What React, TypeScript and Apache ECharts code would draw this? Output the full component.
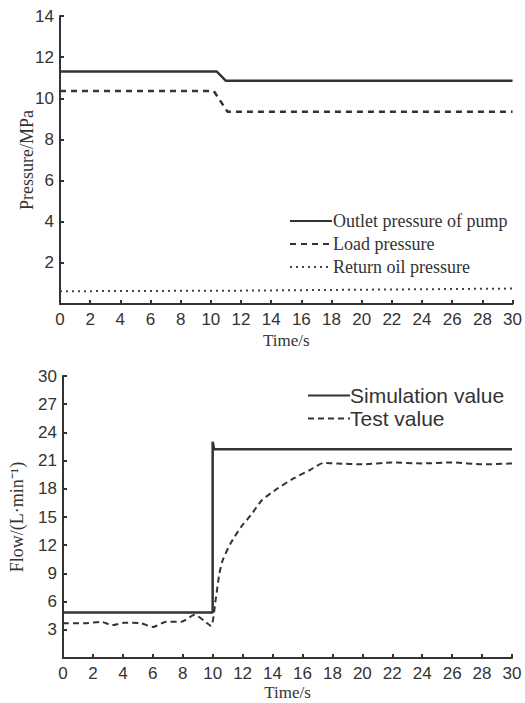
import React, { useEffect, useRef } from "react";
import * as echarts from "echarts";

const xTicks = [0, 2, 4, 6, 8, 10, 12, 14, 16, 18, 20, 22, 24, 26, 28, 30];

// Top chart: pressure (MPa) vs time (s)
const outletPressure: [number, number][] = [
  [0, 11.3], [10.4, 11.3], [11.0, 10.85], [30, 10.85],
];
const loadPressure: [number, number][] = [
  [0, 10.35], [10.2, 10.35], [10.6, 9.9], [11.1, 9.35], [30, 9.35],
];
const returnOilPressure: [number, number][] = [
  [0, 0.62], [12, 0.65], [30, 0.75],
];

// Bottom chart: flow (L/min) vs time (s)
const simulationValue: [number, number][] = [
  [0, 4.85], [10, 4.85], [10, 23.0], [10.1, 22.2], [30, 22.2],
];
const testValue: [number, number][] = [
  [0, 3.7], [1.4, 3.7], [2.55, 3.85], [3.3, 3.5], [4.1, 3.75], [5.2, 3.7],
  [6.0, 3.3], [6.9, 3.85], [7.9, 3.85], [8.8, 4.6], [9.4, 4.0], [9.9, 3.4],
  [10.2, 6.2], [10.45, 9.0], [10.67, 10.4], [11.2, 12.2], [11.9, 13.95],
  [12.55, 15.2], [13.3, 16.8], [14.3, 18.0], [15.4, 19.1], [16.5, 20.0],
  [17.4, 20.75], [18.3, 20.7], [20, 20.6], [22, 20.8], [24, 20.7],
  [26, 20.8], [28, 20.6], [30, 20.7],
];

const axisColor = "#333";
const tickFont = { fontFamily: "Liberation Sans", fontSize: 17, color: "#333" };
const serifFont = { fontFamily: "Liberation Serif", fontSize: 17, color: "#333" };

export default function App() {
  const ref = useRef<HTMLDivElement>(null);
  useEffect(() => {
    document.body.style.margin = "0";
    const chart = echarts.init(ref.current!, undefined, { renderer: "svg" });
    const xAxisBase = (gridIndex: number, gap: number) => ({
      type: "value",
      gridIndex,
      min: 0,
      max: 30,
      interval: 2,
      name: "Time/s",
      nameLocation: "middle",
      nameGap: gap,
      nameMoveOverlap: false,
      nameTextStyle: serifFont,
      axisLine: { show: true, lineStyle: { color: axisColor, width: 2 } },
      axisTick: { show: true, inside: true, length: 4, lineStyle: { color: axisColor, width: 2 } },
      axisLabel: { ...tickFont, margin: 7 },
      splitLine: { show: false },
    });
    const yAxisBase = (gridIndex: number, max: number, interval: number, name: string, gap: number) => ({
      type: "value",
      gridIndex,
      min: 0,
      max,
      interval,
      name,
      nameLocation: "middle",
      nameGap: gap,
      nameMoveOverlap: false,
      nameTextStyle: { ...serifFont, fontSize: 18 },
      axisLine: { show: true, lineStyle: { color: axisColor, width: 2 } },
      axisTick: { show: true, inside: true, length: 4, lineStyle: { color: axisColor, width: 2 } },
      axisLabel: { ...tickFont, margin: 6, showMinLabel: false },
      splitLine: { show: false },
    });
    chart.setOption({
      animation: false,
      backgroundColor: "#fff",
      grid: [
        { left: 60, top: 16, width: 455, height: 288 },
        { left: 61, top: 376, width: 451, height: 282 },
      ],
      xAxis: [xAxisBase(0, 28), xAxisBase(1, 26)],
      yAxis: [
        yAxisBase(0, 14, 2, "Pressure/MPa", 24),
        yAxisBase(1, 30, 3, "Flow/(L·min⁻¹)", 37),
      ],
      legend: [
        {
          orient: "vertical",
          left: 284,
          top: 207,
          itemWidth: 42,
          itemHeight: 12,
          itemGap: 5,
          itemStyle: { opacity: 0 },
          textStyle: { fontFamily: "Liberation Serif", fontSize: 18, color: "#333", padding: [0, 0, 0, -4] },
          data: ["Outlet pressure of pump", "Load pressure", "Return oil pressure"],
        },
        {
          orient: "vertical",
          left: 302,
          top: 380,
          itemWidth: 42,
          itemHeight: 14,
          itemGap: 2,
          itemStyle: { opacity: 0 },
          textStyle: { fontFamily: "Liberation Sans", fontSize: 21, color: "#333", padding: [0, 0, 0, -5] },
          data: ["Simulation value", "Test value"],
        },
      ],
      series: [
        {
          name: "Outlet pressure of pump",
          type: "line",
          xAxisIndex: 0,
          yAxisIndex: 0,
          data: outletPressure,
          symbol: "none",
          lineStyle: { color: "#333", width: 2.5, type: "solid" },
          itemStyle: { color: "#333" },
        },
        {
          name: "Load pressure",
          type: "line",
          xAxisIndex: 0,
          yAxisIndex: 0,
          data: loadPressure,
          symbol: "none",
          lineStyle: { color: "#333", width: 2.5, type: [6, 5] },
          itemStyle: { color: "#333" },
        },
        {
          name: "Return oil pressure",
          type: "line",
          xAxisIndex: 0,
          yAxisIndex: 0,
          data: returnOilPressure,
          symbol: "none",
          lineStyle: { color: "#444", width: 2, type: [2, 4] },
          itemStyle: { color: "#444" },
        },
        {
          name: "Simulation value",
          type: "line",
          xAxisIndex: 1,
          yAxisIndex: 1,
          data: simulationValue,
          symbol: "none",
          lineStyle: { color: "#333", width: 2.5, type: "solid" },
          itemStyle: { color: "#333" },
        },
        {
          name: "Test value",
          type: "line",
          xAxisIndex: 1,
          yAxisIndex: 1,
          data: testValue,
          symbol: "none",
          smooth: 0.2,
          lineStyle: { color: "#333", width: 2, type: [6, 4] },
          itemStyle: { color: "#333" },
        },
      ],
    });
    return () => chart.dispose();
  }, []);
  return <div ref={ref} style={{ width: 525, height: 703 }} />;
}
